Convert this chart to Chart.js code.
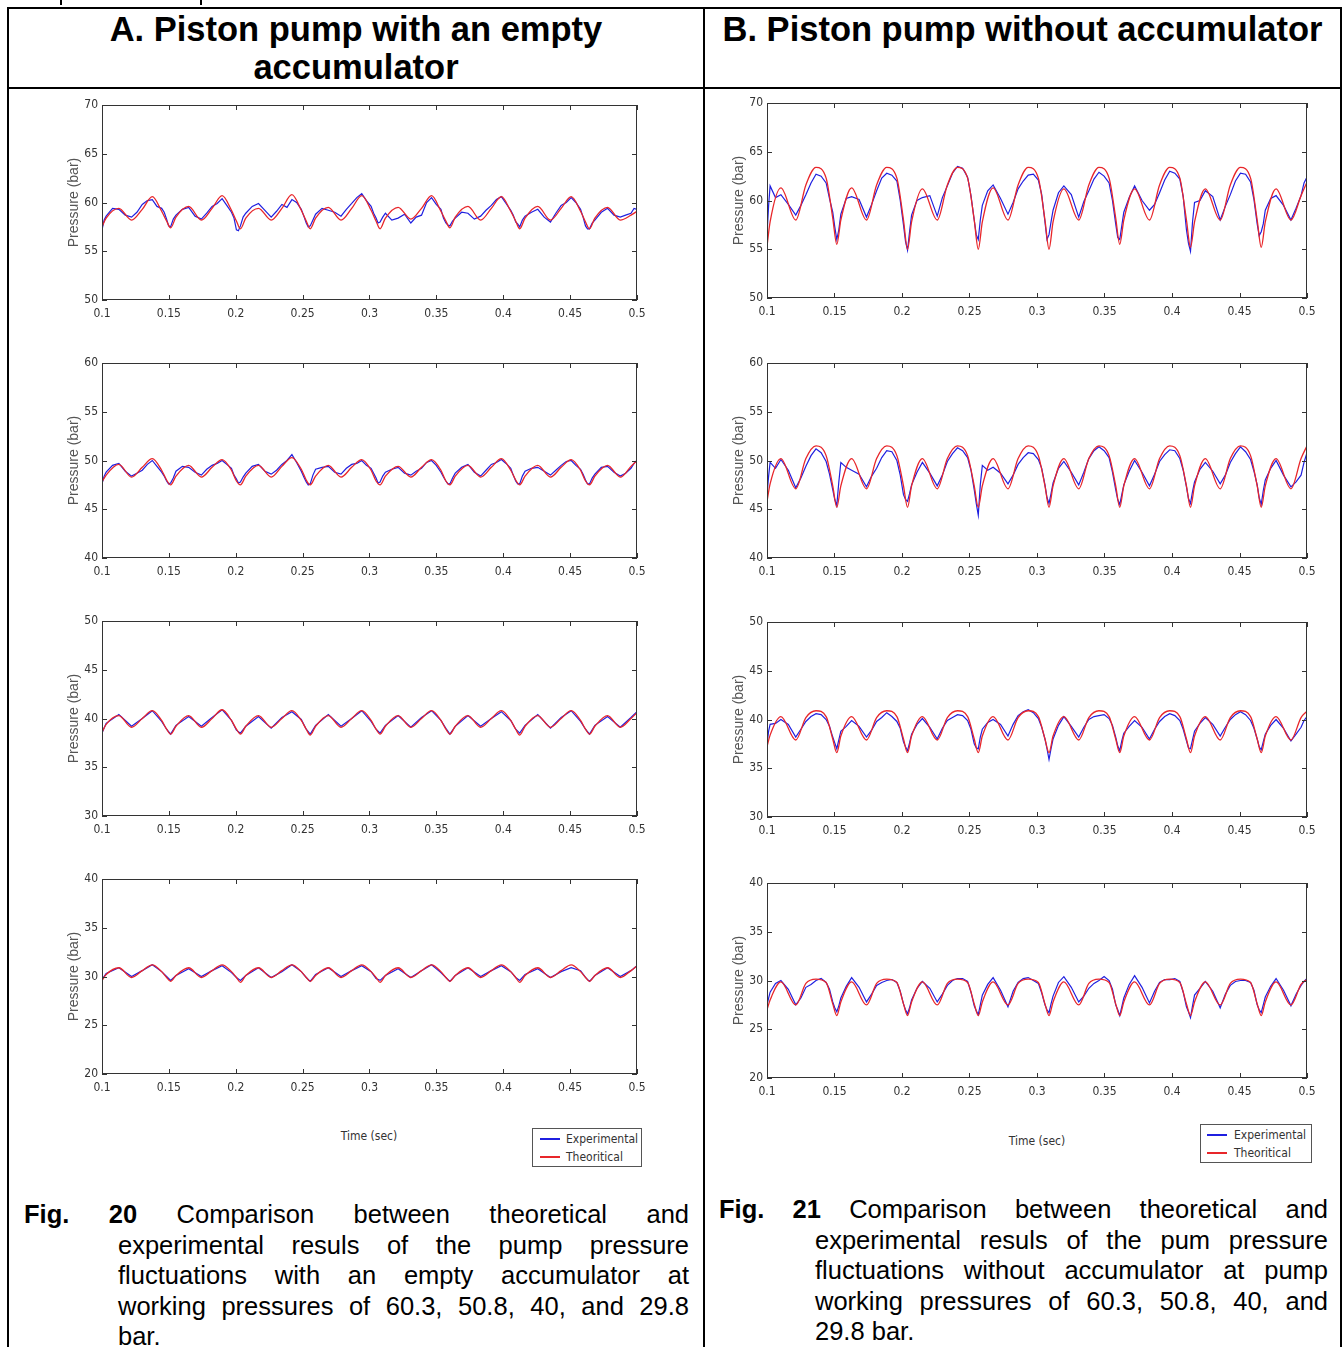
<!DOCTYPE html>
<html>
<head>
<meta charset="utf-8">
<script src="https://cdn.jsdelivr.net/npm/chart.js@4.4.1/dist/chart.umd.min.js"></script>
<style>
  html, body { margin: 0; padding: 0; background: #fff; }
  body { width: 1342px; height: 1347px; position: relative; overflow: hidden; font-family: "Liberation Sans", Arial, sans-serif; }
  .abs { position: absolute; }
  .ln { position: absolute; background: #000; }
  .head { position: absolute; top: 10px; text-align: center; font-weight: bold; font-size: 34.5px; line-height: 38px; color: #000; }
  .cap { position: absolute; font-size: 25.5px; line-height: 30.5px; height: 30.5px; color: #000; white-space: nowrap; }
  .just { text-align: justify; text-align-last: justify; white-space: normal; }
  .small { font-family: "Liberation Sans Narrow", "Arial Narrow", "DejaVu Sans Condensed", sans-serif; font-size: 12px; color: #333; }
  .legend { position: absolute; border: 1px solid #555; background: #fff; }
  .legend .sw { position: absolute; height: 1.5px; width: 20px; }
  .legend .tx { position: absolute; line-height: 14px; }
  canvas { position: absolute; }
</style>
</head>
<body>

<!-- table rules -->
<div class="ln" style="left:60px;top:0;width:2px;height:5px"></div>
<div class="ln" style="left:200px;top:0;width:2px;height:5px"></div>
<div class="ln" style="left:7px;top:7px;width:1335px;height:2px"></div>
<div class="ln" style="left:7px;top:87px;width:1335px;height:2px"></div>
<div class="ln" style="left:7px;top:7px;width:2px;height:1340px"></div>
<div class="ln" style="left:703px;top:7px;width:2px;height:1340px"></div>
<div class="ln" style="left:1340px;top:7px;width:2px;height:1340px"></div>

<div class="head" style="left:9px;width:694px">A. Piston pump with an empty<br>accumulator</div>
<div class="head" style="left:705px;width:635px">B. Piston pump without accumulator</div>

<canvas id="a1" width="585" height="235" style="left:62px;top:95px"></canvas>
<canvas id="a2" width="585" height="235" style="left:62px;top:353px"></canvas>
<canvas id="a3" width="585" height="235" style="left:62px;top:611px"></canvas>
<canvas id="a4" width="585" height="235" style="left:62px;top:869px"></canvas>

<canvas id="b1" width="590" height="235" style="left:727px;top:93px"></canvas>
<canvas id="b2" width="590" height="235" style="left:727px;top:353px"></canvas>
<canvas id="b3" width="590" height="235" style="left:727px;top:612px"></canvas>
<canvas id="b4" width="590" height="235" style="left:727px;top:873px"></canvas>

<div class="abs small" style="left:319px;top:1129px;width:100px;text-align:center">Time (sec)</div>
<div class="abs small" style="left:987px;top:1134px;width:100px;text-align:center">Time (sec)</div>

<div class="legend small" style="left:532px;top:1128px;width:108px;height:37px">
  <div class="sw" style="left:7px;top:9px;background:#1f1fe0"></div>
  <div class="tx" style="left:33px;top:3px">Experimental</div>
  <div class="sw" style="left:7px;top:27px;background:#e8262a"></div>
  <div class="tx" style="left:33px;top:21px">Theoritical</div>
</div>
<div class="legend small" style="left:1200px;top:1124px;width:110px;height:37px">
  <div class="sw" style="left:6px;top:9px;background:#1f1fe0"></div>
  <div class="tx" style="left:33px;top:3px">Experimental</div>
  <div class="sw" style="left:6px;top:27px;background:#e8262a"></div>
  <div class="tx" style="left:33px;top:21px">Theoritical</div>
</div>

<!-- captions -->
<div class="cap just" style="left:24px;top:1199px;width:665px"><b>Fig.</b> <b>20</b> Comparison between theoretical and</div>
<div class="cap just" style="left:118px;top:1229.5px;width:571px">experimental resuls of the pump pressure</div>
<div class="cap just" style="left:118px;top:1260px;width:571px">fluctuations with an empty accumulator at</div>
<div class="cap just" style="left:118px;top:1290.5px;width:571px">working pressures of 60.3, 50.8, 40, and 29.8</div>
<div class="cap" style="left:118px;top:1321px">bar.</div>

<div class="cap just" style="left:719px;top:1194px;width:609px"><b>Fig.</b> <b>21</b> Comparison between theoretical and</div>
<div class="cap just" style="left:815px;top:1224.5px;width:513px">experimental resuls of the pum pressure</div>
<div class="cap just" style="left:815px;top:1255px;width:513px">fluctuations without accumulator at pump</div>
<div class="cap just" style="left:815px;top:1285.5px;width:513px">working pressures of 60.3, 50.8, 40, and</div>
<div class="cap" style="left:815px;top:1316px">29.8 bar.</div>

<script>
// time samples (sec), column A
const timeA = [0.1, 0.1031, 0.1126, 0.1221, 0.1301, 0.1376, 0.1446, 0.1483,
  0.1513, 0.1553, 0.1648, 0.1743, 0.1823, 0.1898, 0.1968, 0.2005,
  0.2035, 0.2075, 0.2170, 0.2265, 0.2345, 0.2420, 0.2490, 0.2527,
  0.2557, 0.2597, 0.2692, 0.2787, 0.2867, 0.2942, 0.3012, 0.3049,
  0.3079, 0.3119, 0.3214, 0.3309, 0.3389, 0.3464, 0.3534, 0.3571,
  0.3601, 0.3641, 0.3736, 0.3831, 0.3911, 0.3986, 0.4056, 0.4093,
  0.4123, 0.4163, 0.4258, 0.4353, 0.4433, 0.4508, 0.4578, 0.4615,
  0.4645, 0.4685, 0.4780, 0.4875, 0.4955, 0.5];
// denser samples for the noisy measured curves
const timeAfine = [0.1, 0.1016, 0.1031, 0.1079, 0.1126, 0.1174, 0.1221, 0.1261, 0.1301, 0.1339, 0.1376, 0.1411, 0.1446, 0.1465, 0.1483, 0.1498,
  0.1513, 0.1533, 0.1553, 0.1601, 0.1648, 0.1696, 0.1743, 0.1783, 0.1823, 0.1861, 0.1898, 0.1933, 0.1968, 0.1987, 0.2005, 0.2020,
  0.2035, 0.2055, 0.2075, 0.2123, 0.2170, 0.2218, 0.2265, 0.2305, 0.2345, 0.2383, 0.2420, 0.2455, 0.2490, 0.2509, 0.2527, 0.2542,
  0.2557, 0.2577, 0.2597, 0.2645, 0.2692, 0.2740, 0.2787, 0.2827, 0.2867, 0.2905, 0.2942, 0.2977, 0.3012, 0.3031, 0.3049, 0.3064,
  0.3079, 0.3099, 0.3119, 0.3167, 0.3214, 0.3262, 0.3309, 0.3349, 0.3389, 0.3427, 0.3464, 0.3499, 0.3534, 0.3553, 0.3571, 0.3586,
  0.3601, 0.3621, 0.3641, 0.3689, 0.3736, 0.3784, 0.3831, 0.3871, 0.3911, 0.3949, 0.3986, 0.4021, 0.4056, 0.4075, 0.4093, 0.4108,
  0.4123, 0.4143, 0.4163, 0.4211, 0.4258, 0.4306, 0.4353, 0.4393, 0.4433, 0.4471, 0.4508, 0.4543, 0.4578, 0.4597, 0.4615, 0.4630,
  0.4645, 0.4665, 0.4685, 0.4733, 0.4780, 0.4828, 0.4875, 0.4915, 0.4955, 0.4978, 0.5];

// time samples (sec), column B
const timeB = [0.1, 0.1023, 0.1103, 0.1213, 0.1288, 0.1363, 0.1438, 0.1487,
  0.1517, 0.1547, 0.1627, 0.1737, 0.1812, 0.1887, 0.1962, 0.2011,
  0.2041, 0.2071, 0.2151, 0.2261, 0.2336, 0.2411, 0.2486, 0.2535,
  0.2565, 0.2595, 0.2675, 0.2785, 0.2860, 0.2935, 0.3010, 0.3059,
  0.3089, 0.3119, 0.3199, 0.3309, 0.3384, 0.3459, 0.3534, 0.3583,
  0.3613, 0.3643, 0.3723, 0.3833, 0.3908, 0.3983, 0.4058, 0.4107,
  0.4137, 0.4167, 0.4247, 0.4357, 0.4432, 0.4507, 0.4582, 0.4631,
  0.4661, 0.4691, 0.4771, 0.4881, 0.4956, 0.5];
const timeBfine = [0.1, 0.1012, 0.1023, 0.1063, 0.1103, 0.1158, 0.1213, 0.1251, 0.1288, 0.1326, 0.1363, 0.1401, 0.1438, 0.1463, 0.1487, 0.1502,
  0.1517, 0.1532, 0.1547, 0.1587, 0.1627, 0.1682, 0.1737, 0.1775, 0.1812, 0.1850, 0.1887, 0.1925, 0.1962, 0.1987, 0.2011, 0.2026,
  0.2041, 0.2056, 0.2071, 0.2111, 0.2151, 0.2206, 0.2261, 0.2299, 0.2336, 0.2374, 0.2411, 0.2449, 0.2486, 0.2511, 0.2535, 0.2550,
  0.2565, 0.2580, 0.2595, 0.2635, 0.2675, 0.2730, 0.2785, 0.2823, 0.2860, 0.2898, 0.2935, 0.2973, 0.3010, 0.3035, 0.3059, 0.3074,
  0.3089, 0.3104, 0.3119, 0.3159, 0.3199, 0.3254, 0.3309, 0.3347, 0.3384, 0.3422, 0.3459, 0.3497, 0.3534, 0.3559, 0.3583, 0.3598,
  0.3613, 0.3628, 0.3643, 0.3683, 0.3723, 0.3778, 0.3833, 0.3871, 0.3908, 0.3946, 0.3983, 0.4021, 0.4058, 0.4083, 0.4107, 0.4122,
  0.4137, 0.4152, 0.4167, 0.4207, 0.4247, 0.4302, 0.4357, 0.4395, 0.4432, 0.4470, 0.4507, 0.4545, 0.4582, 0.4607, 0.4631, 0.4646,
  0.4661, 0.4676, 0.4691, 0.4731, 0.4771, 0.4826, 0.4881, 0.4919, 0.4956, 0.4978, 0.5];

// A: piston pump with an empty accumulator
const expA1 = [57.2, 58.2, 58.6, 59.4, 59.3, 58.7, 58.5, 59.0, 59.8, 60.2, 60.3, 59.6, 59.4, 59.0, 58.3, 57.6,
  57.5, 58.3, 58.7, 59.3, 59.5, 58.6, 58.3, 58.9, 59.6, 59.9, 60.4, 59.7, 59.0, 58.4, 57.2, 57.1,
  57.6, 58.5, 58.9, 59.6, 59.9, 59.2, 58.5, 59.1, 59.8, 59.5, 60.3, 60.0, 59.3, 58.6, 57.9, 57.5,
  57.6, 58.2, 58.8, 59.4, 59.2, 59.0, 58.6, 59.3, 59.9, 60.5, 60.9, 60.2, 59.6, 58.9, 58.4, 57.9,
  58.0, 58.5, 58.9, 58.2, 58.4, 58.8, 57.9, 58.5, 58.7, 60.0, 60.5, 59.8, 59.3, 58.4, 57.9, 57.7,
  57.6, 58.1, 58.4, 59.0, 58.9, 58.3, 58.6, 59.2, 59.7, 60.3, 60.6, 59.9, 59.2, 58.7, 58.0, 57.8,
  57.5, 58.2, 58.6, 59.0, 59.3, 58.5, 58.0, 58.9, 59.7, 60.0, 60.5, 60.0, 59.3, 58.5, 57.6, 57.3,
  57.3, 57.9, 58.2, 59.0, 59.4, 58.7, 58.5, 58.7, 58.9, 59.4, 59.3];
const theoA1 = [57.5, 58.4, 59.4, 58.2, 59.3, 60.6, 59.1, 58.1,
  57.4, 58.5, 59.6, 58.2, 59.4, 60.7, 59.2, 58.1,
  57.3, 58.4, 59.4, 58.2, 59.4, 60.8, 59.2, 58.1,
  57.3, 58.4, 59.5, 58.2, 59.4, 60.7, 59.2, 58.1,
  57.3, 58.4, 59.5, 58.3, 59.4, 60.7, 59.1, 58.1,
  57.4, 58.5, 59.6, 58.2, 59.4, 60.6, 59.1, 58.1,
  57.3, 58.4, 59.6, 58.2, 59.4, 60.6, 59.1, 58.0,
  57.3, 58.4, 59.5, 58.2, 58.7, 59.1];

const expA2 = [47.6, 48.4, 48.8, 49.5, 49.7, 48.9, 48.4, 48.7, 49.0, 49.6, 50.0, 49.4, 48.8, 48.4, 47.9, 47.6,
  47.7, 48.2, 48.9, 49.4, 49.3, 48.8, 48.5, 49.1, 49.5, 49.7, 50.0, 49.6, 49.2, 48.5, 48.1, 47.7,
  47.8, 48.3, 48.7, 49.4, 49.6, 48.9, 48.6, 49.0, 49.6, 50.0, 50.6, 49.8, 48.9, 48.3, 47.8, 47.5,
  47.6, 48.5, 49.1, 49.3, 49.4, 48.8, 48.6, 49.2, 49.6, 49.7, 50.0, 49.5, 49.2, 48.7, 48.2, 47.7,
  47.8, 48.4, 48.8, 49.1, 49.3, 48.7, 48.5, 48.9, 49.2, 49.8, 50.0, 49.5, 48.8, 48.3, 47.9, 47.6,
  47.6, 48.2, 48.7, 49.3, 49.6, 48.8, 48.4, 49.0, 49.6, 49.8, 50.1, 49.7, 49.2, 48.5, 47.9, 47.6,
  47.6, 48.4, 48.9, 49.2, 49.3, 48.9, 48.5, 49.0, 49.5, 49.9, 50.0, 49.5, 49.1, 48.6, 48.0, 47.6,
  47.6, 48.2, 48.6, 49.3, 49.4, 48.8, 48.4, 48.7, 49.2, 49.7, 50.0];
const theoA2 = [47.8, 48.5, 49.6, 48.3, 49.3, 50.2, 49.0, 48.0,
  47.5, 48.4, 49.5, 48.3, 49.3, 50.1, 49.0, 47.9,
  47.5, 48.4, 49.5, 48.3, 49.4, 50.3, 49.1, 48.0,
  47.5, 48.4, 49.5, 48.3, 49.3, 50.1, 49.0, 47.9,
  47.5, 48.4, 49.4, 48.3, 49.3, 50.1, 49.0, 47.9,
  47.5, 48.4, 49.5, 48.3, 49.3, 50.2, 49.0, 48.0,
  47.5, 48.4, 49.5, 48.3, 49.3, 50.1, 49.0, 47.9,
  47.5, 48.4, 49.5, 48.3, 49.4, 50.0];

const expA3 = [38.5, 39.5, 40.4, 39.2, 40.0, 40.8, 39.7, 38.9,
  38.4, 39.3, 40.2, 39.2, 40.1, 40.9, 39.8, 38.8,
  38.5, 39.2, 40.2, 39.0, 40.1, 40.7, 39.9, 38.9,
  38.4, 39.3, 40.4, 39.2, 40.0, 40.8, 39.7, 38.9,
  38.5, 39.3, 40.3, 39.1, 40.1, 40.8, 39.8, 39.0,
  38.4, 39.2, 40.3, 39.2, 40.0, 40.7, 39.8, 38.9,
  38.5, 39.3, 40.4, 39.0, 40.1, 40.8, 39.7, 38.9,
  38.4, 39.3, 40.2, 39.1, 40.1, 40.7];
const theoA3 = [38.6, 39.4, 40.3, 39.1, 40.0, 40.8, 39.8, 38.9,
  38.4, 39.2, 40.3, 39.1, 40.0, 40.9, 39.8, 38.9,
  38.4, 39.2, 40.3, 39.1, 40.0, 40.8, 39.8, 38.9,
  38.3, 39.2, 40.3, 39.1, 40.0, 40.8, 39.8, 38.9,
  38.4, 39.2, 40.3, 39.1, 40.0, 40.8, 39.8, 38.9,
  38.4, 39.2, 40.3, 39.1, 40.0, 40.8, 39.8, 38.9,
  38.3, 39.2, 40.3, 39.1, 40.0, 40.8, 39.8, 38.9,
  38.4, 39.2, 40.3, 39.1, 40.0, 40.6];

const expA4 = [29.7, 30.3, 30.9, 30.0, 30.6, 31.2, 30.5, 30.0,
  29.6, 30.1, 30.8, 30.0, 30.6, 31.1, 30.4, 29.9,
  29.6, 30.1, 30.9, 29.9, 30.5, 31.2, 30.5, 29.9,
  29.5, 30.2, 30.9, 30.0, 30.6, 31.1, 30.5, 29.8,
  29.6, 30.1, 30.8, 29.9, 30.6, 31.2, 30.4, 29.9,
  29.5, 30.1, 30.9, 30.0, 30.6, 31.1, 30.5, 29.9,
  29.6, 30.2, 30.8, 29.9, 30.5, 30.9, 30.6, 29.9,
  29.5, 30.1, 30.9, 30.0, 30.6, 31.1];
const theoA4 = [29.6, 30.2, 30.9, 29.9, 30.6, 31.2, 30.5, 29.9,
  29.5, 30.1, 30.9, 29.9, 30.6, 31.2, 30.5, 29.9,
  29.4, 30.1, 30.9, 29.9, 30.6, 31.2, 30.5, 29.9,
  29.5, 30.1, 30.9, 29.9, 30.6, 31.2, 30.5, 29.9,
  29.4, 30.1, 30.9, 29.9, 30.6, 31.2, 30.5, 29.9,
  29.5, 30.1, 30.9, 29.9, 30.6, 31.2, 30.5, 29.9,
  29.4, 30.1, 30.9, 29.9, 30.6, 31.2, 30.5, 29.9,
  29.5, 30.1, 30.9, 29.9, 30.6, 31.1];

// B: piston pump without accumulator
const expB1 = [56.5, 59.5, 61.5, 60.3, 60.6, 59.6, 58.5, 59.5, 60.6, 61.8, 62.7, 62.5, 61.8, 60.2, 58.8, 57.3,
  56.0, 57.0, 58.6, 60.2, 60.4, 60.1, 58.3, 59.6, 61.0, 62.3, 62.8, 62.6, 62.0, 60.0, 57.5, 55.8,
  54.9, 56.8, 58.5, 60.0, 60.3, 60.5, 58.4, 60.3, 61.5, 62.8, 63.5, 63.3, 62.4, 60.5, 58.0, 56.5,
  56.0, 58.0, 59.5, 61.0, 61.6, 60.2, 58.6, 59.8, 61.2, 62.0, 62.6, 62.7, 62.1, 60.6, 57.8, 56.0,
  56.5, 57.8, 59.0, 60.8, 61.5, 60.6, 58.3, 59.9, 61.0, 62.2, 62.9, 62.5, 61.8, 60.0, 57.6, 56.2,
  56.0, 57.4, 58.8, 60.3, 61.5, 60.0, 59.0, 59.6, 60.8, 62.1, 63.0, 62.8, 62.2, 60.4, 57.0, 55.6,
  54.8, 57.8, 59.8, 60.0, 61.0, 60.4, 58.0, 59.4, 60.6, 62.0, 62.8, 62.7, 61.9, 60.1, 57.6, 56.4,
  56.8, 57.6, 59.0, 60.2, 60.5, 59.5, 58.0, 59.2, 60.5, 61.8, 62.4];
const theoB1 = [55.3, 57.8, 61.3, 58.0, 61.6, 63.4, 62.3, 58.2,
  55.5, 58.0, 61.3, 58.0, 61.6, 63.4, 62.3, 58.0,
  55.0, 57.8, 61.2, 58.0, 61.6, 63.4, 62.3, 58.0,
  55.0, 57.8, 61.3, 58.0, 61.6, 63.4, 62.3, 58.0,
  55.0, 57.8, 61.2, 58.0, 61.6, 63.4, 62.3, 58.2,
  55.5, 58.0, 61.2, 58.0, 61.6, 63.4, 62.3, 58.0,
  55.2, 57.8, 61.2, 58.0, 61.6, 63.4, 62.3, 58.0,
  55.2, 57.8, 61.2, 58.0, 60.5, 61.9];

const expB2 = [46.5, 48.4, 49.8, 49.2, 50.1, 49.0, 47.2, 48.2, 49.4, 50.5, 51.2, 50.8, 49.9, 48.6, 47.0, 46.0,
  45.4, 47.8, 49.8, 49.3, 49.0, 48.6, 47.3, 48.4, 49.2, 50.3, 51.0, 50.9, 50.0, 48.5, 46.5, 46.0,
  45.8, 46.6, 47.5, 48.8, 49.8, 48.7, 47.4, 48.5, 49.9, 50.7, 51.3, 51.0, 50.3, 49.0, 47.0, 45.6,
  44.4, 47.5, 49.5, 49.0, 49.3, 48.7, 47.6, 48.5, 49.6, 50.3, 50.8, 50.7, 50.1, 49.2, 47.5, 46.2,
  45.6, 46.6, 47.7, 49.2, 49.9, 48.8, 47.5, 48.8, 50.2, 51.0, 51.4, 51.0, 50.3, 48.8, 47.0, 46.0,
  45.5, 46.5, 47.5, 48.9, 50.0, 48.8, 47.4, 48.6, 49.9, 50.6, 51.1, 51.0, 50.2, 49.0, 47.3, 46.1,
  45.6, 46.8, 47.8, 49.1, 49.8, 48.9, 47.6, 48.5, 49.8, 50.7, 51.4, 50.9, 50.1, 48.9, 47.5, 46.2,
  45.5, 46.9, 48.0, 49.2, 50.0, 48.5, 47.3, 47.8, 48.5, 49.8, 50.8];
const theoB2 = [45.8, 47.6, 50.2, 47.1, 50.2, 51.5, 50.5, 47.4,
  45.2, 47.4, 50.2, 47.1, 50.2, 51.5, 50.5, 47.4,
  45.2, 47.4, 50.2, 47.1, 50.2, 51.5, 50.5, 47.4,
  45.2, 47.4, 50.2, 47.1, 50.2, 51.5, 50.5, 47.4,
  45.2, 47.4, 50.2, 47.1, 50.2, 51.5, 50.5, 47.4,
  45.2, 47.4, 50.2, 47.1, 50.2, 51.5, 50.5, 47.4,
  45.2, 47.4, 50.2, 47.1, 50.2, 51.5, 50.5, 47.4,
  45.2, 47.4, 50.2, 47.1, 50.2, 51.5];

const expB3 = [37.5, 38.8, 39.5, 39.6, 40.0, 39.5, 38.2, 39.0, 39.8, 40.3, 40.6, 40.5, 40.0, 39.3, 38.2, 37.6,
  37.0, 37.9, 38.8, 39.3, 39.9, 39.3, 38.2, 38.9, 39.8, 40.2, 40.7, 40.3, 39.8, 39.1, 37.7, 37.2,
  36.8, 37.6, 38.5, 39.5, 40.1, 39.2, 38.0, 39.1, 39.9, 40.2, 40.5, 40.4, 39.9, 39.0, 37.5, 37.1,
  37.0, 38.2, 39.0, 39.7, 40.0, 39.5, 38.3, 39.5, 40.4, 40.8, 41.0, 40.7, 40.1, 39.2, 38.0, 37.0,
  35.9, 37.0, 38.0, 39.4, 40.3, 39.3, 38.2, 39.2, 40.0, 40.3, 40.4, 40.5, 40.1, 39.4, 38.2, 37.3,
  36.8, 37.8, 38.6, 39.3, 39.9, 39.2, 38.0, 39.0, 39.8, 40.3, 40.6, 40.4, 39.9, 39.0, 37.8, 37.1,
  37.0, 37.9, 38.8, 39.6, 40.2, 39.5, 38.3, 39.2, 40.0, 40.5, 40.8, 40.5, 39.9, 39.1, 38.0, 37.2,
  36.9, 37.7, 38.5, 39.4, 40.0, 39.1, 37.8, 38.5, 39.2, 39.9, 40.3];
const theoB3 = [37.2, 38.4, 40.3, 37.9, 40.2, 40.9, 40.3, 38.0,
  36.6, 38.3, 40.3, 37.9, 40.2, 40.9, 40.3, 38.0,
  36.6, 38.3, 40.3, 37.9, 40.2, 40.9, 40.3, 38.0,
  36.6, 38.3, 40.3, 37.9, 40.2, 40.9, 40.3, 38.0,
  36.6, 38.3, 40.3, 37.9, 40.2, 40.9, 40.3, 38.0,
  36.6, 38.3, 40.3, 37.9, 40.2, 40.9, 40.3, 38.0,
  36.6, 38.3, 40.3, 37.9, 40.2, 40.9, 40.3, 38.0,
  36.6, 38.3, 40.3, 37.9, 40.2, 40.85];

const expB4 = [27.5, 28.2, 28.8, 29.7, 30.0, 29.1, 27.5, 28.2, 29.3, 29.6, 30.0, 30.2, 29.8, 29.1, 27.8, 27.2,
  26.8, 27.4, 28.2, 29.4, 30.3, 29.3, 27.8, 28.6, 29.5, 29.8, 30.0, 30.1, 29.8, 28.9, 27.6, 27.0,
  26.6, 27.2, 28.0, 29.2, 29.9, 29.2, 27.8, 28.6, 29.5, 30.0, 30.2, 30.2, 29.9, 28.8, 27.4, 26.9,
  26.5, 27.5, 28.5, 29.6, 30.3, 29.0, 27.3, 28.9, 29.8, 30.2, 30.3, 30.0, 29.7, 28.7, 27.5, 27.0,
  26.7, 27.6, 28.4, 29.8, 30.4, 29.3, 27.8, 28.4, 29.2, 29.7, 30.0, 30.4, 30.0, 29.1, 27.5, 27.0,
  26.4, 27.3, 28.2, 29.6, 30.5, 29.3, 27.7, 28.9, 29.8, 30.1, 30.1, 30.2, 29.9, 28.8, 27.3, 26.8,
  26.2, 27.4, 28.5, 29.2, 29.9, 28.9, 27.2, 28.6, 29.5, 29.9, 30.0, 30.0, 29.8, 29.0, 27.5, 27.0,
  26.7, 27.5, 28.3, 29.4, 30.2, 29.0, 27.4, 28.6, 29.5, 29.9, 30.2];
const theoB4 = [27.0, 28.0, 29.85, 27.5, 29.7, 30.15, 29.8, 27.6,
  26.4, 27.8, 29.85, 27.5, 29.7, 30.15, 29.8, 27.6,
  26.4, 27.8, 29.85, 27.5, 29.7, 30.15, 29.8, 27.6,
  26.4, 27.8, 29.85, 27.5, 29.7, 30.15, 29.8, 27.6,
  26.4, 27.8, 29.85, 27.5, 29.7, 30.15, 29.8, 27.6,
  26.4, 27.8, 29.85, 27.5, 29.7, 30.15, 29.8, 27.6,
  26.4, 27.8, 29.85, 27.5, 29.7, 30.15, 29.8, 27.6,
  26.4, 27.8, 29.85, 27.5, 29.6, 30.1];

const tickFont = { family: '"Liberation Sans Narrow", "Arial Narrow", "DejaVu Sans Condensed", sans-serif', size: 12 };

// matlab style box with inward ticks on all four sides
const boxTicks = {
  id: "boxTicks",
  afterDraw(chart) {
    const { ctx, chartArea: a, scales: { x, y } } = chart;
    ctx.save();
    ctx.strokeStyle = "#333";
    ctx.lineWidth = 1;
    ctx.strokeRect(a.left + 0.5, a.top + 0.5, a.right - a.left - 1, a.bottom - a.top - 1);
    ctx.beginPath();
    x.ticks.forEach(tk => {
      const px = Math.round(x.getPixelForValue(tk.value)) + 0.5;
      ctx.moveTo(px, a.bottom); ctx.lineTo(px, a.bottom - 5);
      ctx.moveTo(px, a.top); ctx.lineTo(px, a.top + 5);
    });
    y.ticks.forEach(tk => {
      const py = Math.round(y.getPixelForValue(tk.value)) + 0.5;
      ctx.moveTo(a.left, py); ctx.lineTo(a.left + 5, py);
      ctx.moveTo(a.right, py); ctx.lineTo(a.right - 5, py);
    });
    ctx.stroke();
    ctx.restore();
  }
};

function pumpChart(id, expTime, exp, theoTime, theo, yMin, yMax) {
  new Chart(document.getElementById(id), {
    type: "line",
    data: {
      datasets: [
        {
          label: "Experimental",
          data: expTime.map((t, i) => ({ x: t, y: exp[i] })),
          borderColor: "#1f1fe0",
          borderWidth: 1.2,
          pointRadius: 0,
          tension: 0,
          order: 2
        },
        {
          label: "Theoritical",
          data: theoTime.map((t, i) => ({ x: t, y: theo[i] })),
          borderColor: "#e8262a",
          borderWidth: 1.3,
          pointRadius: 0,
          cubicInterpolationMode: "monotone",
          order: 1
        }
      ]
    },
    options: {
      responsive: false,
      animation: false,
      devicePixelRatio: 1,
      layout: { padding: { top: 10, right: 10, left: 0, bottom: 0 } },
      plugins: { legend: { display: false }, tooltip: { enabled: false } },
      scales: {
        x: {
          type: "linear", min: 0.1, max: 0.5,
          grid: { display: false, drawTicks: false },
          border: { display: false },
          ticks: { stepSize: 0.05, padding: 7, color: "#333", font: tickFont, maxRotation: 0, autoSkip: false,
            callback: v => String(+v.toFixed(2)) },
          afterFit: s => { s.height = 30; s.paddingLeft = 0; s.paddingRight = 0; }
        },
        y: {
          min: yMin, max: yMax,
          grid: { display: false, drawTicks: false },
          border: { display: false },
          ticks: { stepSize: 5, padding: 4, color: "#333", font: tickFont },
          title: { display: true, text: "Pressure (bar)", color: "#555", font: { family: '"Liberation Sans", Arial, sans-serif', size: 14 } },
          afterFit: s => { s.width = 40; s.paddingTop = 0; s.paddingBottom = 0; }
        }
      }
    },
    plugins: [boxTicks]
  });
}

pumpChart("a1", timeAfine, expA1, timeA, theoA1, 50, 70);
pumpChart("a2", timeAfine, expA2, timeA, theoA2, 40, 60);
pumpChart("a3", timeA, expA3, timeA, theoA3, 30, 50);
pumpChart("a4", timeA, expA4, timeA, theoA4, 20, 40);
pumpChart("b1", timeBfine, expB1, timeB, theoB1, 50, 70);
pumpChart("b2", timeBfine, expB2, timeB, theoB2, 40, 60);
pumpChart("b3", timeBfine, expB3, timeB, theoB3, 30, 50);
pumpChart("b4", timeBfine, expB4, timeB, theoB4, 20, 40);
</script>
</body>
</html>
